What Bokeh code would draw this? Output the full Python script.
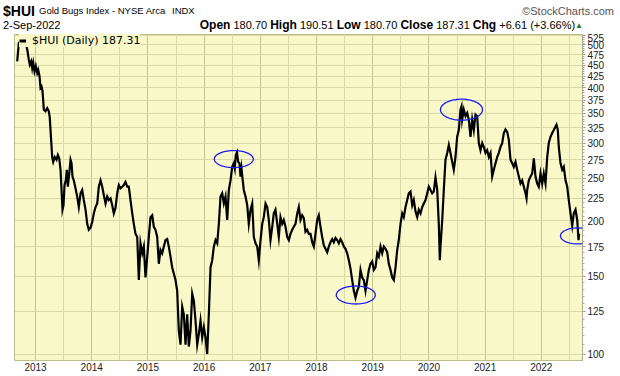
import math
from bokeh.plotting import figure
from bokeh.models import (Range1d, FixedTicker, NumeralTickFormatter, Legend, LegendItem,
                          PolyAnnotation, ColumnDataSource, Div)
from bokeh.layouts import column
from bokeh.embed import file_html
from bokeh.resources import INLINE

# ---------------- data ----------------
years = [2012.674, 2012.703, 2012.733, 2012.751, 2012.781, 2012.804, 2012.822, 2012.840, 2012.858, 2012.881,
         2012.899, 2012.923, 2012.941, 2012.959, 2012.982, 2013.005, 2013.030, 2013.048, 2013.071, 2013.089,
         2013.107, 2013.125, 2013.148, 2013.178, 2013.208, 2013.237, 2013.254, 2013.267, 2013.285, 2013.297,
         2013.315, 2013.343, 2013.374, 2013.397, 2013.422, 2013.445, 2013.463, 2013.480, 2013.498, 2013.516,
         2013.539, 2013.557, 2013.575, 2013.600, 2013.623, 2013.641, 2013.658, 2013.681, 2013.706, 2013.742,
         2013.770, 2013.801, 2013.831, 2013.859, 2013.890, 2013.920, 2013.948, 2013.979, 2014.009, 2014.037,
         2014.068, 2014.098, 2014.126, 2014.157, 2014.187, 2014.215, 2014.246, 2014.276, 2014.304, 2014.335,
         2014.365, 2014.393, 2014.423, 2014.454, 2014.482, 2014.512, 2014.543, 2014.571, 2014.601, 2014.632,
         2014.660, 2014.690, 2014.721, 2014.749, 2014.779, 2014.810, 2014.838, 2014.868, 2014.899, 2014.927,
         2014.957, 2014.988, 2015.016, 2015.046, 2015.077, 2015.105, 2015.135, 2015.165, 2015.194, 2015.224,
         2015.254, 2015.283, 2015.313, 2015.343, 2015.372, 2015.402, 2015.432, 2015.461, 2015.491, 2015.521,
         2015.550, 2015.580, 2015.610, 2015.639, 2015.669, 2015.699, 2015.728, 2015.758, 2015.788, 2015.817,
         2015.847, 2015.877, 2015.906, 2015.936, 2015.966, 2015.995, 2016.025, 2016.055, 2016.084, 2016.114,
         2016.144, 2016.173, 2016.203, 2016.233, 2016.262, 2016.292, 2016.322, 2016.351, 2016.381, 2016.411,
         2016.440, 2016.470, 2016.500, 2016.528, 2016.546, 2016.564, 2016.585, 2016.606, 2016.629, 2016.648,
         2016.665, 2016.683, 2016.706, 2016.737, 2016.767, 2016.795, 2016.826, 2016.856, 2016.884, 2016.915,
         2016.945, 2016.973, 2017.004, 2017.034, 2017.062, 2017.093, 2017.123, 2017.151, 2017.181, 2017.212,
         2017.240, 2017.270, 2017.301, 2017.329, 2017.359, 2017.390, 2017.418, 2017.448, 2017.479, 2017.507,
         2017.537, 2017.568, 2017.596, 2017.626, 2017.657, 2017.685, 2017.715, 2017.746, 2017.774, 2017.804,
         2017.834, 2017.863, 2017.893, 2017.923, 2017.952, 2017.982, 2018.012, 2018.041, 2018.071, 2018.101,
         2018.130, 2018.160, 2018.190, 2018.219, 2018.249, 2018.279, 2018.308, 2018.338, 2018.368, 2018.397,
         2018.427, 2018.457, 2018.486, 2018.516, 2018.546, 2018.575, 2018.605, 2018.635, 2018.664, 2018.694,
         2018.724, 2018.753, 2018.783, 2018.813, 2018.842, 2018.872, 2018.902, 2018.931, 2018.961, 2018.991,
         2019.020, 2019.050, 2019.080, 2019.109, 2019.139, 2019.169, 2019.198, 2019.228, 2019.258, 2019.286,
         2019.317, 2019.347, 2019.376, 2019.406, 2019.436, 2019.464, 2019.495, 2019.525, 2019.553, 2019.584,
         2019.614, 2019.642, 2019.673, 2019.703, 2019.731, 2019.762, 2019.792, 2019.820, 2019.851, 2019.881,
         2019.909, 2019.940, 2019.970, 2019.998, 2020.028, 2020.059, 2020.087, 2020.117, 2020.148, 2020.176,
         2020.194, 2020.206, 2020.237, 2020.265, 2020.295, 2020.326, 2020.354, 2020.384, 2020.414, 2020.443,
         2020.473, 2020.503, 2020.532, 2020.562, 2020.580, 2020.592, 2020.621, 2020.651, 2020.681, 2020.710,
         2020.740, 2020.770, 2020.799, 2020.829, 2020.859, 2020.888, 2020.918, 2020.948, 2020.977, 2021.007,
         2021.037, 2021.066, 2021.096, 2021.126, 2021.155, 2021.185, 2021.215, 2021.244, 2021.274, 2021.304,
         2021.333, 2021.363, 2021.393, 2021.422, 2021.452, 2021.482, 2021.511, 2021.541, 2021.571, 2021.600,
         2021.630, 2021.660, 2021.689, 2021.719, 2021.737, 2021.749, 2021.778, 2021.808, 2021.838, 2021.867,
         2021.897, 2021.927, 2021.955, 2021.986, 2022.016, 2022.044, 2022.075, 2022.105, 2022.133, 2022.164,
         2022.194, 2022.222, 2022.253, 2022.270, 2022.294, 2022.311, 2022.342, 2022.372, 2022.400, 2022.431,
         2022.461, 2022.489, 2022.520, 2022.550, 2022.578, 2022.609, 2022.639, 2022.662, 2022.674]

hui = [459, 505, 510, 513, 507, 512, 508, 497, 484, 463,
       451, 459, 443, 456, 436, 448, 432, 439, 425, 400,
       403, 393, 357, 354, 360, 354, 342, 321, 295, 279,
       272, 279, 275, 282, 277, 261, 235, 212, 217, 241,
       247, 261, 239, 256, 275, 270, 252, 247, 239, 227,
       215, 231, 235, 223, 212, 197, 191, 193, 199, 208,
       215, 219, 239, 247, 239, 229, 219, 227, 223, 225,
       217, 208, 214, 231, 241, 237, 239, 241, 245, 239,
       239, 223, 208, 197, 187, 184, 147, 178, 169, 175,
       149, 166, 184, 204, 206, 194, 191, 184, 160, 172,
       169, 175, 181, 182, 175, 166, 157, 152, 147, 139,
       113, 105, 128, 123, 105, 123, 104, 113, 137, 132,
       119, 105, 111, 119, 109, 115, 109, 100, 123, 157,
       163, 175, 181, 178, 197, 227, 231, 219, 227, 201,
       235, 247, 265, 270, 263, 282, 286, 272, 270, 252,
       263, 250, 235, 227, 217, 197, 212, 219, 184, 178,
       175, 163, 181, 197, 204, 219, 215, 201, 181, 194,
       208, 212, 197, 184, 204, 197, 201, 194, 184, 181,
       187, 191, 194, 197, 208, 215, 201, 206, 203, 189,
       191, 187, 187, 179, 175, 187, 201, 206, 194, 184,
       176, 173, 170, 175, 179, 182, 179, 183, 181, 178,
       182, 179, 175, 173, 169, 163, 156, 147, 139, 134,
       139, 142, 155, 149, 147, 139, 147, 155, 160, 162,
       155, 157, 169, 166, 175, 169, 175, 173, 170, 160,
       155, 149, 147, 157, 172, 181, 197, 208, 204, 215,
       223, 231, 233, 217, 223, 210, 204, 212, 208, 215,
       219, 223, 231, 239, 235, 231, 233, 251, 235, 197,
       163, 175, 201, 235, 275, 285, 297, 285, 272, 261,
       279, 310, 321, 357, 363, 339, 357, 345, 351, 339,
       310, 339, 321, 348, 345, 300, 289, 300, 294, 285,
       289, 279, 285, 252, 261, 270, 279, 285, 294, 300,
       316, 322, 318, 305, 275, 270, 265, 272, 261, 252,
       243, 247, 239, 231, 225, 235, 247, 252, 256, 277,
       252, 243, 239, 256, 243, 256, 243, 279, 300, 310,
       316, 321, 327, 330, 321, 294, 270, 261, 265, 247,
       239, 223, 208, 195, 208, 212, 201, 181, 187.31]

year_ticks = [2013, 2014, 2015, 2016, 2017, 2018, 2019, 2020, 2021, 2022]
price_ticks = [100, 125, 150, 175, 200, 225, 250, 275, 300, 325, 350, 375,
               400, 425, 450, 475, 500, 525]

symbol = "$HUI"
index_name = "Gold Bugs Index - NYSE Arca"
exchange = "INDX"
last_date = "2-Sep-2022"
open_px, high_px, low_px, close_px = 180.70, 190.51, 180.70, 187.31
chg, chg_pct = 6.61, 3.66

# highlighted turning points (blue ellipses)
mark_years = [2016.528, 2018.699, 2020.580, 2022.644]
mark_values = [276, 136, 357, 185]

# ---------------- layout / style ----------------
W, H = 620, 376
HEAD = 33                      # header strip height
FL, FR, FT, FB = 14, 582, 34, 360   # frame edges in page pixels
X0, X1 = 2012.626, 2022.733
Y0, Y1 = 96.7, 528.0
BG = "#F8F8C9"
HGRID = "#DADAA8"
VMAJ = "#C5C58E"
VMIN = "#DADAA8"
FONT = "Liberation Sans"

p = figure(width=W, height=H - HEAD, output_backend="svg", toolbar_location=None,
           x_range=Range1d(X0, X1), y_range=Range1d(Y0, Y1), y_axis_type="log",
           y_axis_location="right", margin=0,
           min_border_left=FL, min_border_right=W - FR, min_border_top=FT - HEAD,
           min_border_bottom=H - FB)
p.background_fill_color = BG
p.border_fill_color = "white"
p.outline_line_color = "#BDBD88"
p.outline_line_width = 1

# x axis
p.xaxis.ticker = FixedTicker(ticks=year_ticks,
                             minor_ticks=[y - 0.5 for y in year_ticks] + [year_ticks[-1] + 0.5])
p.xaxis.formatter = NumeralTickFormatter(format="0")
p.xaxis.axis_line_color = None
p.xaxis.major_tick_line_color = None
p.xaxis.minor_tick_line_color = None
p.xaxis.major_tick_out = 0
p.xaxis.major_tick_in = 0
p.xaxis.minor_tick_out = 0
p.xaxis.minor_tick_in = 0
p.xaxis.major_label_standoff = 2
p.xaxis.major_label_text_font = FONT
p.xaxis.major_label_text_font_size = "10px"
p.xaxis.major_label_text_color = "#222222"

# y axis (right, log)
p.yaxis.ticker = FixedTicker(ticks=price_ticks, minor_ticks=list(range(100, 530, 5)))
p.yaxis.formatter = NumeralTickFormatter(format="0")
p.yaxis.axis_line_color = "#8A8A8A"
p.yaxis.axis_line_dash = "1 2"
p.yaxis.major_tick_out = 3
p.yaxis.major_tick_in = 0
p.yaxis.minor_tick_out = 2
p.yaxis.minor_tick_in = 0
p.yaxis.major_tick_line_color = "#8A8A8A"
p.yaxis.minor_tick_line_color = "#AAAAAA"
p.yaxis.major_label_standoff = 2
p.yaxis.major_label_text_font = FONT
p.yaxis.major_label_text_font_size = "10px"
p.yaxis.major_label_text_color = "#222222"

# grids
p.xgrid.grid_line_color = VMAJ
p.xgrid.minor_grid_line_color = VMIN
p.ygrid.grid_line_color = HGRID

# price line
src = ColumnDataSource(dict(t=years, v=hui))
p.line("t", "v", source=src, line_color="black", line_width=2.2, line_join="miter")

# legend (inside the top-left corner of the plot area)
leg_r = p.line(x=[years[0]], y=[hui[0]], line_color="black", line_width=3)
legend = Legend(items=[LegendItem(label=f"{symbol} (Daily) {close_px:.2f}", renderers=[leg_r])],
                location=(5, (FB - FT) - 13), margin=0, padding=0,
                glyph_width=7, glyph_height=9, label_height=9, label_standoff=6,
                label_text_font="DejaVu Sans", label_text_font_size="11px",
                label_text_color="#000000",
                background_fill_color=BG, background_fill_alpha=1.0,
                border_line_color=None)
p.add_layout(legend)

# ellipses around the turning points
sx = (FR - FL) / (X1 - X0)
sy = (FB - FT) / math.log(Y1 / Y0)
sizes = [(39, 17), (39, 18), (42, 21), (34, 16)]
for (cx, cy), (wpx, hpx) in zip(zip(mark_years, mark_values), sizes):
    ts = [2 * math.pi * i / 72 for i in range(73)]
    xs = [cx + (wpx / 2) * math.cos(t) / sx for t in ts]
    ys = [cy * math.exp((hpx / 2) * math.sin(t) / sy) for t in ts]
    p.add_layout(PolyAnnotation(xs=xs, ys=ys, fill_color=None, fill_alpha=0,
                                line_color="#1C1CF2", line_alpha=1.0, line_width=1.3))

# ---------------- header strip ----------------
def span(text, top, left=None, right=None, size=11, bold=False, color="#000000", lh=14):
    pos = f"left:{left}px;" if left is not None else f"right:{right}px;"
    weight = "bold" if bold else "normal"
    return (f'<span style="position:absolute;{pos}top:{top}px;font-family:\'{FONT}\';'
            f'font-size:{size}px;font-weight:{weight};color:{color};line-height:{lh}px;'
            f'white-space:nowrap">{text}</span>')

B = '<b style="font-size:12px">'
ohlc = (f"{B}Open</b> {open_px:.2f} {B}High</b> {high_px:.2f} {B}Low</b> {low_px:.2f} "
        f"{B}Close</b> {close_px:.2f} {B}Chg</b> +{chg:.2f} (+{chg_pct:.2f}%)"
        f'<span style="color:#1E7B1E;font-size:8px;vertical-align:1px">&#9650;</span>')

html = ('<div style="position:relative;width:620px;height:33px;overflow:visible;background:white">'
        + span(f"<b>{symbol}</b>", 4, left=3, size=14, lh=14)
        + span(index_name, 5, left=39, size=9.5, lh=12)
        + span(exchange, 5, left=172, size=9.5, lh=12)
        + span("&copy;StockCharts.com", 5, right=6, size=11, color="#555555", lh=12)
        + span(last_date, 20, left=3, size=11, lh=11)
        + span(ohlc, 20, right=37, size=11, lh=11)
        + '</div>')

header = Div(text=html, width=W, height=HEAD, margin=0)

layout = column(header, p, margin=0, spacing=0)
open("out.html", "w").write(file_html(layout, INLINE))
